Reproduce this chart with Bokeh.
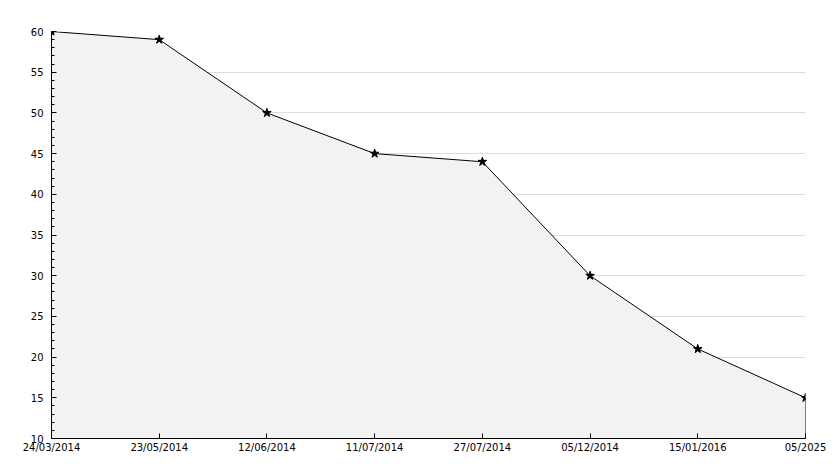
from bokeh.plotting import figure
from bokeh.models import FixedTicker, Range1d
from bokeh.embed import file_html
from bokeh.resources import INLINE

dates = ["24/03/2014", "23/05/2014", "12/06/2014", "11/07/2014",
         "27/07/2014", "05/12/2014", "15/01/2016", "05/2025"]
values = [60, 59, 50, 45, 44, 30, 21, 15]
y_min, y_max = 10, 60

idx = list(range(len(dates)))

p = figure(width=826, height=460, output_backend="svg", toolbar_location=None,
           x_range=Range1d(0, len(dates) - 1), y_range=Range1d(y_min, y_max),
           min_border_left=51, min_border_top=31, min_border_right=21, min_border_bottom=22)
p.outline_line_color = None
p.background_fill_color = "white"

xs = idx + [idx[-1], idx[0]]
ys = values + [y_min, y_min]
p.patch(xs, ys, fill_color="#f2f2f2", line_color="black", line_width=1)
p.scatter(idx, values, marker="star", size=9, fill_color="black", line_color="black")

font = "DejaVu Sans"
p.xaxis.ticker = FixedTicker(ticks=idx)
p.xaxis.major_label_overrides = {i: d for i, d in enumerate(dates)}
p.yaxis.ticker = FixedTicker(ticks=list(range(y_min, y_max + 1, 5)),
                             minor_ticks=list(range(y_min, y_max + 1)))
for ax in (p.xaxis[0], p.yaxis[0]):
    ax.axis_line_color = "black"
    ax.axis_line_width = 1
    ax.major_tick_in = 5
    ax.major_tick_out = 0
    ax.minor_tick_in = 3
    ax.minor_tick_out = 0
    ax.major_tick_line_color = "black"
    ax.minor_tick_line_color = "black"
    ax.major_label_text_font = font
    ax.major_label_text_font_size = "10px"
    ax.major_label_text_color = "black"
p.xaxis.minor_tick_line_color = None
p.yaxis.major_label_standoff = 8
p.xaxis.major_label_standoff = 3

p.xgrid.grid_line_color = None
p.ygrid.grid_line_color = "#dddddd"
p.ygrid.ticker = FixedTicker(ticks=list(range(y_min, y_max + 1, 5)))

open("out.html", "w").write(file_html(p, INLINE))
